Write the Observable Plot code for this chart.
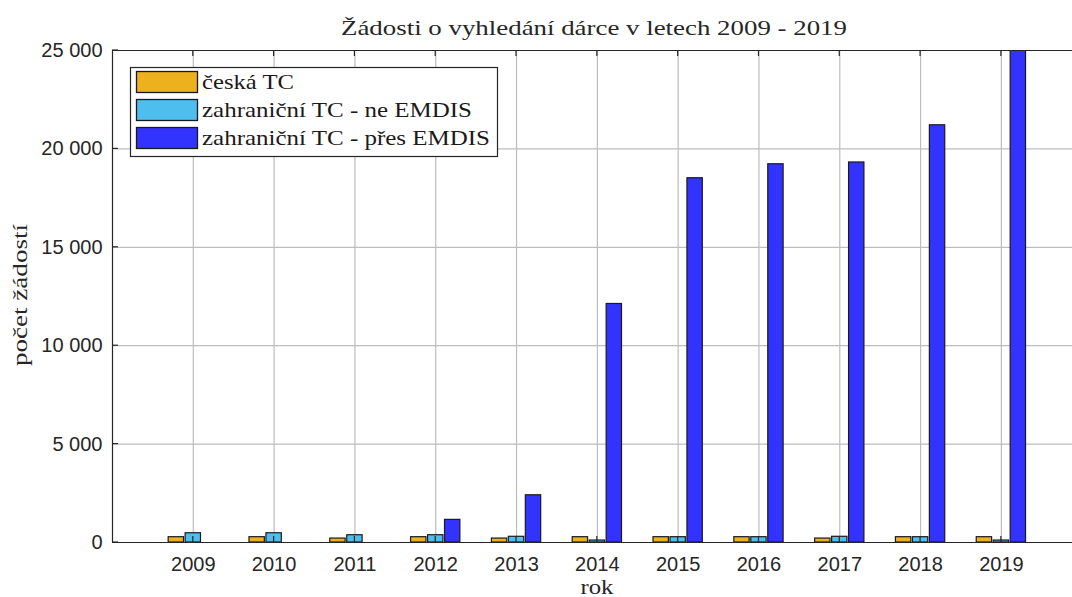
<!DOCTYPE html>
<html>
<head>
<meta charset="utf-8">
<script src="https://cdn.jsdelivr.net/npm/d3@7"></script>
<script src="https://cdn.jsdelivr.net/npm/@observablehq/plot@0.6"></script>
<style>
  html, body { margin: 0; padding: 0; background: #fff; overflow: hidden; }
  #chart svg { display: block; }
</style>
</head>
<body>
<div id="chart"></div>
<script>
const years = [2009, 2010, 2011, 2012, 2013, 2014, 2015, 2016, 2017, 2018, 2019];
const seriesNames = ["česká TC", "zahraniční TC - ne EMDIS", "zahraniční TC - přes EMDIS"];
const ceskaTC = [270, 270, 200, 270, 200, 270, 270, 270, 200, 270, 270];
const zahrNeEMDIS = [470, 470, 370, 370, 290, 100, 270, 270, 290, 270, 100];
const zahrPresEMDIS = [0, 0, 0, 1150, 2400, 12120, 18510, 19220, 19310, 21200, 25000];
const colors = ["#EDB120", "#4DBEEE", "#3333FF"];
const yTicks = [0, 5000, 10000, 15000, 20000, 25000];
const yTickLabels = ["0", "5 000", "10 000", "15 000", "20 000", "25 000"];
const titleText = "Žádosti o vyhledání dárce v letech 2009 - 2019";
const xLabel = "rok";
const yLabel = "počet žádostí";

const seriesValues = [ceskaTC, zahrNeEMDIS, zahrPresEMDIS];
const offsets = [-0.21, 0, 0.21];
const halfW = 0.095;
const data = [];
seriesValues.forEach((vals, s) => {
  vals.forEach((v, i) => {
    data.push({year: years[i], series: seriesNames[s], s, value: v,
               x1: years[i] + offsets[s] - halfW, x2: years[i] + offsets[s] + halfW});
  });
});

const W = 1072, H = 597;
const mL = 112, mR = 0, mT = 50, mB = 55;
const axisColor = "#262626";
const tickFont = "Liberation Sans, Arial, sans-serif";
const serif = "Liberation Serif, Times New Roman, serif";

const chart = Plot.plot({
  width: W,
  height: H,
  marginLeft: mL,
  marginRight: mR,
  marginTop: mT,
  marginBottom: mB,
  style: {background: "#fff", overflow: "visible"},
  x: {type: "linear", domain: [2008, 2019.88], axis: null},
  y: {type: "linear", domain: [0, 25000], axis: null},
  color: {domain: seriesNames, range: colors},
  marks: [
    Plot.ruleX(years, {x: d => d, stroke: "#bdbdbd", strokeWidth: 1.2}),
    Plot.ruleY(yTicks.slice(1, -1), {y: d => d, stroke: "#bdbdbd", strokeWidth: 1.2}),
    Plot.rectY(data.filter(d => d.value > 0), {
      x1: "x1", x2: "x2", y1: 0, y2: "value",
      fill: "series", stroke: "#1a1a1a", strokeWidth: 1.2, clip: true
    }),
    Plot.ruleX([2008], {x: d => d, stroke: axisColor, strokeWidth: 1.2}),
    Plot.ruleY([0, 25000], {y: d => d, stroke: axisColor, strokeWidth: 1.2}),
    Plot.text(yTicks, {x: () => 2008, y: d => d, text: (d, i) => yTickLabels[i], textAnchor: "end", dx: -10,
      fontSize: 20, fill: axisColor, fontFamily: tickFont}),
    Plot.text(years, {x: d => d, y: () => 0, text: d => String(d), dy: 22, lineAnchor: "middle",
      fontSize: 20, fill: axisColor, fontFamily: tickFont})
  ]
});

const svg = d3.select(chart);
const xs = chart.scale("x"), ys = chart.scale("y");
const g = svg.append("g");
years.forEach(yr => {
  const px = xs.apply(yr);
  g.append("line").attr("x1", px).attr("x2", px).attr("y1", ys.apply(25000)).attr("y2", ys.apply(25000) + 6)
    .attr("stroke", axisColor).attr("stroke-width", 1.2);
  g.append("line").attr("x1", px).attr("x2", px).attr("y1", ys.apply(0)).attr("y2", ys.apply(0) - 6)
    .attr("stroke", axisColor).attr("stroke-width", 1.2);
});
yTicks.forEach(v => {
  const py = ys.apply(v);
  g.append("line").attr("x1", xs.apply(2008)).attr("x2", xs.apply(2008) + 6).attr("y1", py).attr("y2", py)
    .attr("stroke", axisColor).attr("stroke-width", 1.2);
});

svg.append("text").attr("x", 594).attr("y", 35).attr("text-anchor", "middle")
  .attr("font-family", serif).attr("font-size", 22).attr("fill", "#262626")
  .attr("textLength", 506).attr("lengthAdjust", "spacingAndGlyphs").text(titleText);
svg.append("text").attr("x", 597).attr("y", 594).attr("text-anchor", "middle")
  .attr("font-family", serif).attr("font-size", 21).attr("fill", "#262626")
  .attr("textLength", 33).attr("lengthAdjust", "spacingAndGlyphs").text(xLabel);
svg.append("text").attr("transform", "translate(27,295) rotate(-90)").attr("text-anchor", "middle")
  .attr("font-family", serif).attr("font-size", 21).attr("fill", "#262626")
  .attr("textLength", 142).attr("lengthAdjust", "spacingAndGlyphs").text(yLabel);

const legendLens = [92, 270, 288];
const lg = svg.append("g");
lg.append("rect").attr("x", 130.5).attr("y", 67.5).attr("width", 367).attr("height", 89)
  .attr("fill", "#fff").attr("stroke", axisColor).attr("stroke-width", 1.2);
seriesNames.forEach((name, i) => {
  const cy = 82 + i * 28;
  lg.append("rect").attr("x", 136.5).attr("y", cy - 10.5).attr("width", 61).attr("height", 21)
    .attr("fill", colors[i]).attr("stroke", "#1a1a1a").attr("stroke-width", 1.3);
  lg.append("text").attr("x", 202).attr("y", cy + 7).attr("text-anchor", "start")
    .attr("font-family", serif).attr("font-size", 21)
    .attr("textLength", legendLens[i]).attr("lengthAdjust", "spacingAndGlyphs")
    .attr("fill", "#1a1a1a").text(name);
});

document.getElementById("chart").appendChild(chart);
</script>
</body>
</html>
